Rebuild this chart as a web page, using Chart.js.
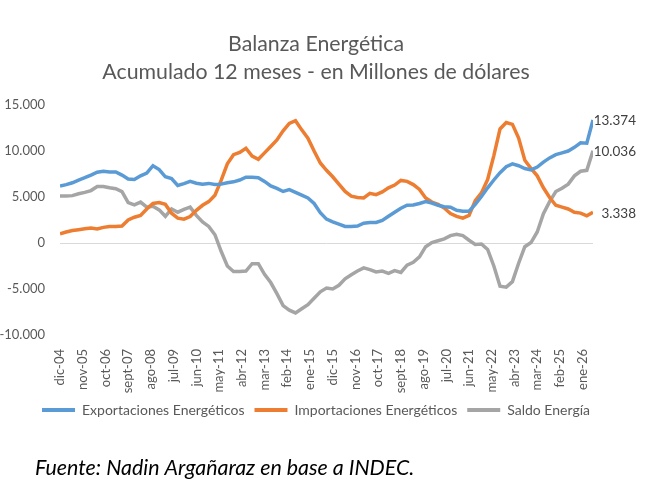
<!DOCTYPE html>
<html><head><meta charset="utf-8">
<script src="https://cdn.jsdelivr.net/npm/chart.js@4/dist/chart.umd.min.js"></script>
<style>html,body{margin:0;padding:0;background:#fff;} #wrap{position:relative;width:668px;height:488px;}</style>
</head><body><div id="wrap"><canvas id="c" width="668" height="488"></canvas></div>
<script>
// Month-axis tick labels (one every 11 months)
const tickLabels = ['dic-04','nov-05','oct-06','sept-07','ago-08','jul-09','jun-10','may-11','abr-12','mar-13','feb-14','ene-15','dic-15','nov-16','oct-17','sept-18','ago-19','jul-20','jun-21','may-22','abr-23','mar-24','feb-25','ene-26'];
const monthsPerTick = 11;
const monthsPerSample = 3; // values below are read every 3 months

const seriesNames = ['Exportaciones Energéticos','Importaciones Energéticos','Saldo Energía'];

const exportaciones = [6190,6350,6550,6840,7100,7380,7700,7800,7730,7730,
7380,6950,6900,7300,7600,8400,7990,7200,7000,6250,
6450,6700,6500,6400,6480,6350,6400,6550,6650,6850,
7150,7150,7100,6700,6200,5940,5600,5800,5500,5200,
4900,4300,3300,2600,2300,2050,1800,1800,1850,2150,
2230,2230,2450,2900,3350,3780,4100,4140,4300,4500,
4350,4100,3950,3900,3550,3450,3450,4200,5050,6000,
6850,7650,8300,8600,8400,8100,7950,8250,8800,9250,
9600,9800,10000,10400,10900,10850,13374];

const importaciones = [1000,1200,1360,1450,1550,1620,1520,1700,1800,1800,
1850,2500,2800,3000,3700,4300,4400,4200,3240,2700,
2590,2870,3550,4100,4500,5200,6800,8600,9600,9850,
10300,9450,9100,9800,10500,11200,12200,13000,13300,12300,
11400,10000,8700,7900,7200,6400,5600,5100,4950,4900,
5400,5250,5550,6000,6300,6800,6700,6350,5830,4900,
4450,4200,3800,3200,2900,2700,3000,4600,5450,6900,
9500,12400,13100,12900,11400,9000,8100,7300,6000,4950,
4100,3900,3700,3350,3250,2950,3338];

const saldo = [5110,5100,5150,5350,5500,5700,6150,6150,6000,5900,
5580,4400,4150,4450,3900,4000,3600,2900,3700,3350,
3650,3900,3000,2300,1800,900,-900,-2500,-3100,-3100,
-3050,-2250,-2250,-3400,-4300,-5500,-6800,-7300,-7600,-7150,
-6700,-6000,-5300,-4900,-5000,-4600,-3900,-3450,-3050,-2700,
-2900,-3150,-3050,-3300,-3000,-3200,-2400,-2100,-1500,-400,
50,250,450,800,950,800,300,-150,-100,-700,
-2500,-4700,-4800,-4200,-2200,-400,50,1200,3200,4500,
5600,5950,6400,7300,7800,7900,10036];

const colors = ['#5B9BD5','#ED7D31','#A5A5A5'];
const FONT = 'Lato';

const fmt = v => { const s = Math.round(Math.abs(v)).toString().replace(/\B(?=(\d{3})+(?!\d))/g,'.'); return (v<0?'-':'')+s; };
const toPoints = arr => arr.map((v,i)=>({x:i*monthsPerSample, y:v}));

const endLabelPlugin = {
  id:'endLabels',
  afterDatasetsDraw(chart){
    const ctx = chart.ctx;
    ctx.save();
    ctx.font = '13.5px ' + FONT;
    ctx.fillStyle = '#404040';
    ctx.textAlign = 'right';
    ctx.textBaseline = 'middle';
    chart.data.datasets.forEach((ds,k)=>{
      const meta = chart.getDatasetMeta(k);
      const el = meta.data[meta.data.length-1];
      const val = ds.data[ds.data.length-1].y;
      ctx.fillText(fmt(val), el.x + 43, el.y + 1);
    });
    ctx.restore();
  }
};
const footerPlugin = {
  id:'footer',
  afterDraw(chart){
    const ctx = chart.ctx;
    ctx.save();
    ctx.font = 'italic 21.4px ' + FONT;
    ctx.fillStyle = '#000000';
    ctx.textAlign = 'left';
    ctx.textBaseline = 'middle';
    ctx.fillText('Fuente: Nadin Argañaraz en base a INDEC.', 35, 468);
    ctx.restore();
  }
};

new Chart(document.getElementById('c'), {
  type:'line',
  data:{datasets:[exportaciones, importaciones, saldo].map((arr,k)=>({
    label: seriesNames[k], data: toPoints(arr),
    borderColor: colors[k], backgroundColor: colors[k],
    borderWidth: 3.5, pointRadius: 0, tension: 0, fill:false
  }))},
  options:{
    responsive:false, animation:false,
    layout:{padding:{left:0,right:36,top:0,bottom:61}},
    plugins:{
      title:{display:true, text:['Balanza Energética','Acumulado 12 meses - en Millones de dólares'], color:'#595959',
        font:{family:FONT, size:21.3, weight:'normal', lineHeight:1.315}, padding:{top:30,bottom:19}},
      legend:{position:'bottom', labels:{boxWidth:33, boxHeight:4, color:'#595959', font:{family:FONT, size:14}, padding:10,
        generateLabels: ch => Chart.defaults.plugins.legend.labels.generateLabels(ch).map(l=>Object.assign(l,{lineWidth:0}))}},
      tooltip:{enabled:false}
    },
    scales:{
      x:{type:'linear', min:0, max:(exportaciones.length-1)*monthsPerSample,
        afterBuildTicks: s => { s.ticks = tickLabels.map((_,k)=>({value:k*monthsPerTick})); },
        ticks:{autoSkip:false, maxRotation:90, minRotation:90, callback: v => tickLabels[Math.round(v/monthsPerTick)],
          color:'#595959', font:{family:FONT, size:13}, padding:6},
        grid:{display:false}, border:{display:false},
        afterFit: s => { s.height = 58; }
      },
      y:{min:-10000, max:15000,
        ticks:{stepSize:5000, callback: v => fmt(v), color:'#595959', font:{family:FONT, size:13}, padding:15},
        grid:{drawTicks:false, color: c => (c.tick && c.tick.value===0) ? '#D9D9D9' : 'rgba(0,0,0,0)', lineWidth:1},
        border:{display:false},
        afterFit: s => { s.width = 60; }
      },
      yRight:{position:'right', min:-10000, max:15000, display:true,
        ticks:{display:false}, grid:{display:false, drawTicks:false}, border:{display:false},
        afterFit: s => { s.width = 39; }
      }
    }
  },
  plugins:[endLabelPlugin, footerPlugin]
});
</script>
</body></html>
